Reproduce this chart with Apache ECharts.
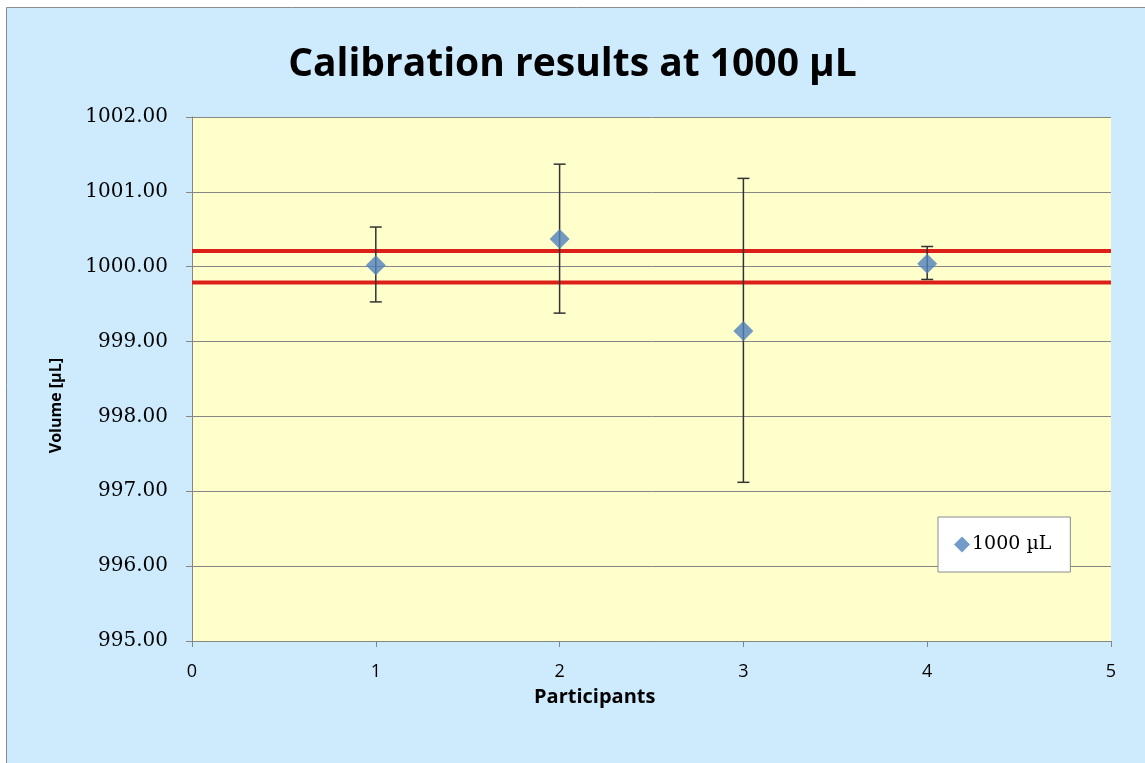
<!DOCTYPE html>
<html>
<head>
<meta charset="utf-8">
<script src="https://cdn.jsdelivr.net/npm/echarts@6/dist/echarts.min.js"></script>
<style>
html,body{margin:0;padding:0;background:#ffffff;}
#chart{width:1145px;height:763px;}
</style>
</head>
<body>
<div id="chart"></div>
<script>
// Data
const participants = [1, 2, 3, 4];
const volumes = [1000.02, 1000.37, 999.14, 1000.04];
const errLow = [999.53, 999.38, 997.12, 999.83];
const errHigh = [1000.53, 1001.37, 1001.18, 1000.27];
const limitHigh = 1000.21;
const limitLow = 999.79;
const xRange = [0, 5];
const yRange = [995, 1002];
const seriesName = '1000 µL';

const chart = echarts.init(document.getElementById('chart'));
const font = 'Open Sans';

const scatterData = participants.map((p, i) => [p, volumes[i]]);
const errData = participants.map((p, i) => [p, errLow[i], errHigh[i]]);

const option = {
  backgroundColor: '#ffffff',
  animation: false,
  graphic: [{
    type: 'rect', z: -10, silent: true,
    shape: { x: 6.5, y: 7.5, width: 1200, height: 800 },
    style: { fill: '#CDEBFD', stroke: '#8c8c8c', lineWidth: 1 }
  }, {
    type: 'text', left: 48, top: 358, rotation: Math.PI / 2, silent: true,
    style: { text: 'Volume [µL]', fontFamily: font, fontSize: 16, fontWeight: 'bold', fill: '#000' }
  }, {
    type: 'text', left: 534, top: 687, silent: true,
    style: { text: 'Participants', fontFamily: font, fontSize: 20, fontWeight: 'bold', fill: '#000' }
  }],
  title: {
    text: 'Calibration results at 1000 µL',
    left: 'center', top: 40,
    textStyle: { fontFamily: font, fontSize: 39, fontWeight: 'bold', color: '#000' }
  },
  grid: { left: 192, top: 117, width: 919, height: 524, show: true, backgroundColor: '#FFFFCC', borderWidth: 0 },
  legend: {
    data: [seriesName],
    left: 938, top: 517,
    backgroundColor: '#ffffff', borderColor: '#8c8c8c', borderWidth: 1,
    padding: [18, 19, 18, 16],
    itemWidth: 16, itemHeight: 16, itemGap: 4,
    textStyle: { fontFamily: 'DejaVu Serif', fontSize: 19, color: '#000', padding: [0,0,0,-3] }
  },
  xAxis: {
    type: 'value', min: xRange[0], max: xRange[1], interval: 1,
    axisLine: { show: true, onZero: false, lineStyle: { color: '#868686', width: 1 } },
    axisTick: { show: true, length: 6, lineStyle: { color: '#868686' } },
    axisLabel: { fontFamily: font, fontSize: 18, color: '#000', margin: 22 },
    splitLine: { show: false }
  },
  yAxis: {
    type: 'value', min: yRange[0], max: yRange[1], interval: 1,
    axisLine: { show: true, lineStyle: { color: '#868686', width: 1 } },
    axisTick: { show: true, length: 6, lineStyle: { color: '#868686' } },
    axisLabel: { fontFamily: 'DejaVu Serif', fontSize: 20, color: '#000', margin: 24,
      formatter: v => v.toFixed(2) },
    splitLine: { show: true, lineStyle: { color: '#868686', width: 1 } }
  },
  series: [
    {
      type: 'line', name: 'upper', data: [[xRange[0], limitHigh], [xRange[1], limitHigh]],
      symbol: 'none', lineStyle: { color: '#DD1F1A', width: 4 }, z: 3, silent: true
    },
    {
      type: 'line', name: 'lower', data: [[xRange[0], limitLow], [xRange[1], limitLow]],
      symbol: 'none', lineStyle: { color: '#DD1F1A', width: 4 }, z: 3, silent: true
    },
    {
      type: 'custom', name: 'err', data: errData, z: 4,
      renderItem: function (params, api) {
        const x = api.value(0);
        const lo = api.coord([x, api.value(1)]);
        const hi = api.coord([x, api.value(2)]);
        const hw = 6;
        const st = { stroke: '#333333', lineWidth: 1.5 };
        return {
          type: 'group',
          children: [
            { type: 'line', shape: { x1: lo[0], y1: lo[1], x2: hi[0], y2: hi[1] }, style: st },
            { type: 'line', shape: { x1: lo[0] - hw, y1: lo[1], x2: lo[0] + hw, y2: lo[1] }, style: st },
            { type: 'line', shape: { x1: hi[0] - hw, y1: hi[1], x2: hi[0] + hw, y2: hi[1] }, style: st }
          ]
        };
      }
    },
    {
      type: 'scatter', name: seriesName, data: scatterData,
      symbol: 'diamond', symbolSize: 20, z: 5,
      itemStyle: { color: '#4F81BD' }
    }
  ]
};
chart.setOption(option);
</script>
</body>
</html>
